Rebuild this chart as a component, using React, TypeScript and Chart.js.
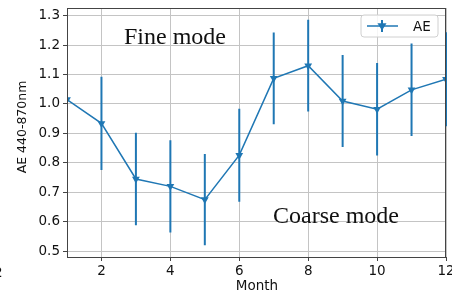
import React, { useEffect, useRef } from "react";
import { Chart, registerables } from "chart.js";

Chart.register(...registerables);

const months = [1, 2, 3, 4, 5, 6, 7, 8, 9, 10, 11, 12];
const aeValues = [1.015, 0.934, 0.745, 0.72, 0.675, 0.826, 1.087, 1.13, 1.01, 0.982, 1.048, 1.084];
const aeErrors = [0.157, 0.158, 0.157, 0.157, 0.155, 0.158, 0.156, 0.156, 0.156, 0.157, 0.157, 0.16];
const xTicks = [2, 4, 6, 8, 10, 12];
const yTicks = [0.5, 0.6, 0.7, 0.8, 0.9, 1.0, 1.1, 1.2, 1.3];
const seriesLabel = "AE";
const xTitle = "Month";
const yTitle = "AE 440-870nm";
const annotations = ["Fine mode", "Coarse mode"];

const BLUE = "#1f77b4";
const SANS = "'DejaVu Sans', sans-serif";
const SERIF = "'Liberation Serif', 'Times New Roman', serif";

function drawTriDown(ctx: CanvasRenderingContext2D, x: number, y: number, r: number) {
  ctx.beginPath();
  ctx.moveTo(x - r, y - r * 0.6);
  ctx.lineTo(x + r, y - r * 0.6);
  ctx.lineTo(x, y + r);
  ctx.closePath();
  ctx.fill();
}

const decorPlugin = {
  id: "decor",
  afterDatasetsDraw(chart: any) {
    const ctx = chart.ctx as CanvasRenderingContext2D;
    const xs = chart.scales.x;
    const ys = chart.scales.y;
    const a = chart.chartArea;
    ctx.save();
    ctx.beginPath();
    ctx.rect(a.left + 1.5, a.top, a.right - a.left, a.bottom - a.top);
    ctx.clip();
    ctx.strokeStyle = BLUE;
    ctx.lineWidth = 2;
    months.forEach((m, i) => {
      const px = xs.getPixelForValue(m);
      const y1 = ys.getPixelForValue(aeValues[i] + aeErrors[i]);
      const y2 = ys.getPixelForValue(aeValues[i] - aeErrors[i]);
      ctx.beginPath();
      ctx.moveTo(px, y1);
      ctx.lineTo(px, y2);
      ctx.stroke();
    });
    ctx.restore();
  },
  afterDraw(chart: any) {
    const ctx = chart.ctx as CanvasRenderingContext2D;
    const a = chart.chartArea;
    ctx.save();
    // spines
    ctx.strokeStyle = "#444";
    ctx.lineWidth = 1;
    ctx.strokeRect(Math.round(a.left) + 0.5, Math.round(a.top) + 0.5, Math.round(a.right - a.left) - 1, Math.round(a.bottom - a.top));
    // annotations
    ctx.fillStyle = "#111";
    ctx.font = `24px ${SERIF}`;
    ctx.textAlign = "left";
    ctx.textBaseline = "alphabetic";
    ctx.fillText(annotations[0], 124, 44);
    ctx.fillText(annotations[1], 273, 223);
    // axis titles
    ctx.font = `13.5px ${SANS}`;
    ctx.textAlign = "center";
    ctx.fillText(xTitle, 257, 290);
    ctx.save();
    ctx.translate(26, 127);
    ctx.rotate(-Math.PI / 2);
    ctx.font = `12.5px ${SANS}`;
    ctx.fillText(yTitle, 0, 0);
    ctx.restore();
    // stray glyph at left edge
    ctx.font = `13.5px ${SANS}`;
    ctx.textAlign = "left";
    ctx.fillText("2", -6, 277);
    // legend
    const lx = 361, ly = 15, lw = 77, lh = 22, r = 3;
    ctx.beginPath();
    ctx.moveTo(lx + r, ly);
    ctx.lineTo(lx + lw - r, ly);
    ctx.arcTo(lx + lw, ly, lx + lw, ly + r, r);
    ctx.lineTo(lx + lw, ly + lh - r);
    ctx.arcTo(lx + lw, ly + lh, lx + lw - r, ly + lh, r);
    ctx.lineTo(lx + r, ly + lh);
    ctx.arcTo(lx, ly + lh, lx, ly + lh - r, r);
    ctx.lineTo(lx, ly + r);
    ctx.arcTo(lx, ly, lx + r, ly, r);
    ctx.closePath();
    ctx.fillStyle = "rgba(255,255,255,0.85)";
    ctx.fill();
    ctx.strokeStyle = "#d0d0d0";
    ctx.stroke();
    ctx.strokeStyle = BLUE;
    ctx.lineWidth = 1.5;
    ctx.beginPath();
    ctx.moveTo(367, 26);
    ctx.lineTo(398, 26);
    ctx.stroke();
    ctx.lineWidth = 2;
    ctx.beginPath();
    ctx.moveTo(382, 20);
    ctx.lineTo(382, 32);
    ctx.stroke();
    ctx.fillStyle = BLUE;
    drawTriDown(ctx, 382, 26, 4.5);
    ctx.fillStyle = "#111";
    ctx.font = `13.5px ${SANS}`;
    ctx.textAlign = "left";
    ctx.textBaseline = "middle";
    ctx.fillText(seriesLabel, 413, 27);
    ctx.restore();
  },
};

export default function App() {
  const ref = useRef<HTMLCanvasElement | null>(null);
  useEffect(() => {
    document.body.style.margin = "0";
    const canvas = ref.current;
    if (!canvas) return;
    const chart = new Chart(canvas, {
      type: "line",
      data: {
        datasets: [
          {
            label: seriesLabel,
            data: months.map((m, i) => ({ x: m, y: aeValues[i] })),
            borderColor: BLUE,
            backgroundColor: BLUE,
            borderWidth: 1.5,
            pointStyle: "triangle",
            rotation: 180,
            pointRadius: 4.5,
            pointBorderWidth: 0,
            pointBackgroundColor: BLUE,
            tension: 0,
          },
        ],
      },
      options: {
        responsive: false,
        animation: false,
        layout: { padding: { top: 8, right: 6, left: 0, bottom: 0 }, autoPadding: false } as any,
        plugins: { legend: { display: false }, tooltip: { enabled: false } },
        scales: {
          x: {
            type: "linear",
            min: 1,
            max: 12,
            afterBuildTicks: (s: any) => {
              s.ticks = xTicks.map((v) => ({ value: v }));
            },
            afterFit: (s: any) => {
              s.height = 36;
              s.paddingLeft = 0;
              s.paddingRight = 0;
            },
            grid: { color: "#c4c4c4", lineWidth: 1, tickLength: 4, tickColor: "#444" },
            border: { display: false },
            ticks: {
              color: "#111",
              font: { family: "DejaVu Sans", size: 13.5 },
              padding: 2,
              maxRotation: 0,
              autoSkip: false,
              callback: (v: any) => String(v),
            },
          },
          y: {
            type: "linear",
            min: 0.48,
            max: 1.326,
            afterBuildTicks: (s: any) => {
              s.ticks = yTicks.map((v) => ({ value: v }));
            },
            afterFit: (s: any) => {
              s.width = 67;
              s.paddingTop = 0;
              s.paddingBottom = 0;
            },
            grid: { color: "#c4c4c4", lineWidth: 1, tickLength: 4, tickColor: "#444" },
            border: { display: false },
            ticks: {
              color: "#111",
              font: { family: "DejaVu Sans", size: 13.5 },
              padding: 3,
              autoSkip: false,
              callback: (v: any) => Number(v).toFixed(1),
            },
          },
        },
      },
      plugins: [decorPlugin],
    });
    return () => chart.destroy();
  }, []);
  return <canvas ref={ref} width={452} height={293} style={{ display: "block" }} />;
}
